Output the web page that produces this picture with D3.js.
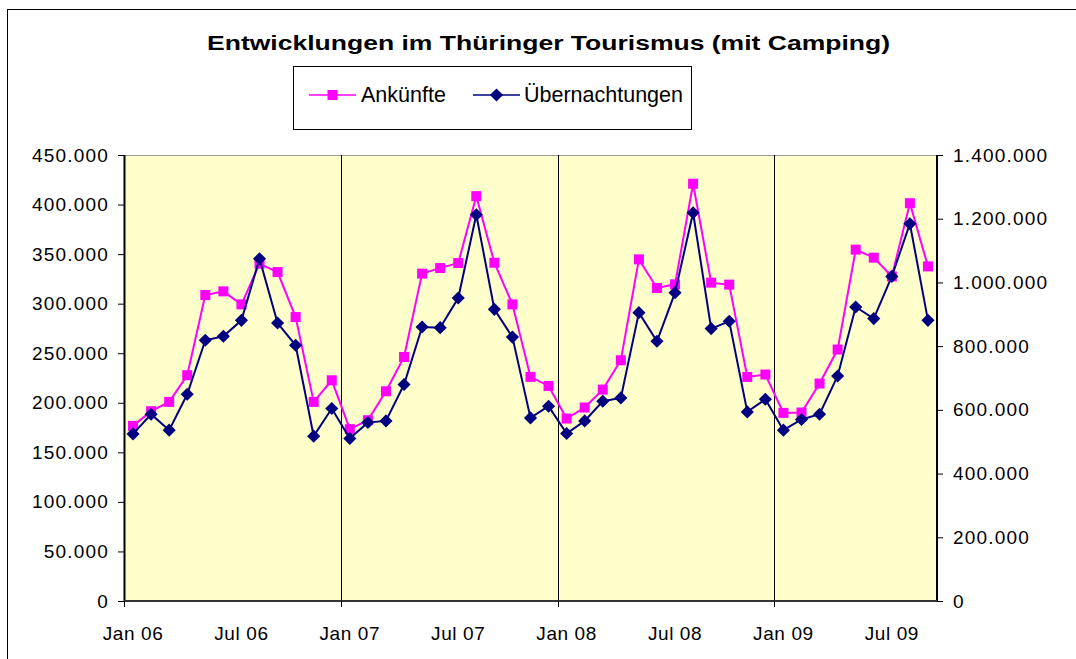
<!DOCTYPE html>
<html>
<head>
<meta charset="utf-8">
<script src="https://cdn.jsdelivr.net/npm/d3@7"></script>
<style>
  body { margin: 0; background: #fff; }
  svg text { font-family: "Liberation Sans", Arial, sans-serif; fill: #000; }
</style>
</head>
<body>
<div id="chart"></div>
<script>
const months = [
  "Jan 06","Feb 06","Mar 06","Apr 06","May 06","Jun 06","Jul 06","Aug 06","Sep 06","Oct 06","Nov 06","Dec 06",
  "Jan 07","Feb 07","Mar 07","Apr 07","May 07","Jun 07","Jul 07","Aug 07","Sep 07","Oct 07","Nov 07","Dec 07",
  "Jan 08","Feb 08","Mar 08","Apr 08","May 08","Jun 08","Jul 08","Aug 08","Sep 08","Oct 08","Nov 08","Dec 08",
  "Jan 09","Feb 09","Mar 09","Apr 09","May 09","Jun 09","Jul 09","Aug 09","Sep 09"
];

const tickLabels = ["Jan 06","Jul 06","Jan 07","Jul 07","Jan 08","Jul 08","Jan 09","Jul 09"];
const yearStarts = ["Jan 06","Jan 07","Jan 08","Jan 09"];

const ankuenfte = [
  176700, 191500, 200900, 227800, 308700, 312400, 299300, 340300, 331900, 286500, 200900, 222700,
  173400, 182400, 211600, 246200, 330300, 335900, 341000, 408500, 341300, 299300, 226100, 217000,
  184100, 195200, 213300, 242900, 344700, 315800, 319500, 421000, 321200, 319200, 226100, 228500,
  189800, 190200, 219400, 253700, 354500, 346400, 327500, 401400, 337600
];

const uebernachtungen = [
  524600, 586300, 536200, 649000, 818400, 831000, 881000, 1074500, 872600, 802700, 517400, 604200,
  510000, 560300, 565300, 679500, 860000, 858000, 951000, 1212500, 915600, 828400, 574700, 611400,
  525800, 565300, 627100, 637500, 905200, 815200, 967900, 1218800, 855000, 878000, 593600, 633400,
  536200, 569700, 586300, 706400, 922800, 886400, 1019000, 1184300, 881000
];

const leftTicks = [0, 50000, 100000, 150000, 200000, 250000, 300000, 350000, 400000, 450000];
const rightTicks = [0, 200000, 400000, 600000, 800000, 1000000, 1200000, 1400000];

const width = 1076;
const height = 659;
const plot = { left: 124, right: 937, top: 155, bottom: 601 };

const de = d3.formatLocale({ decimal: ",", thousands: ".", grouping: [3], currency: ["", " €"] });
const fmt = de.format(",d");

const svg = d3.select("#chart").append("svg")
  .attr("width", width)
  .attr("height", height);

// Rahmen
svg.append("rect")
  .attr("x", 7.5).attr("y", 9.5)
  .attr("width", width).attr("height", height)
  .attr("fill", "#fff")
  .attr("stroke", "#000");

const x = d3.scaleBand().domain(months).range([plot.left, plot.right]).padding(0);
const yL = d3.scaleLinear().domain([0, 450000]).range([plot.bottom, plot.top]);
const yR = d3.scaleLinear().domain([0, 1400000]).range([plot.bottom, plot.top]);
const cx = (m) => x(m) + x.bandwidth() / 2;

// Zeichenfläche
svg.append("rect")
  .attr("x", plot.left).attr("y", plot.top)
  .attr("width", plot.right - plot.left).attr("height", plot.bottom - plot.top)
  .attr("fill", "#FFFFCC");

svg.append("line")
  .attr("x1", plot.left).attr("x2", plot.right)
  .attr("y1", plot.top + 0.5).attr("y2", plot.top + 0.5)
  .attr("stroke", "#999");

// vertikale Linien an den Jahresanfängen
svg.selectAll(".grid")
  .data(yearStarts.slice(1))
  .enter()
  .append("line")
  .attr("class", "grid")
  .attr("x1", (d) => Math.round(x(d)) + 0.5)
  .attr("x2", (d) => Math.round(x(d)) + 0.5)
  .attr("y1", plot.top).attr("y2", plot.bottom + 6)
  .attr("stroke", "#000");

// Achsen
const axisLeft = d3.axisLeft(yL).tickValues(leftTicks).tickFormat(fmt).tickSize(6).tickPadding(9);
const axisRight = d3.axisRight(yR).tickValues(rightTicks).tickFormat(fmt).tickSize(6).tickPadding(10);

const gl = svg.append("g").attr("transform", `translate(${plot.left},0)`).call(axisLeft);
const gr = svg.append("g").attr("transform", `translate(${plot.right},0)`).call(axisRight);

[gl, gr].forEach((g) => {
  g.select(".domain").remove();
  g.selectAll(".tick line").attr("stroke", "#000");
  g.selectAll("text")
    .style("font-size", "19px")
    .style("letter-spacing", "1.2px")
    .attr("fill", "#000");
});

svg.append("line")
  .attr("x1", plot.left + 0.5).attr("x2", plot.left + 0.5)
  .attr("y1", plot.top).attr("y2", plot.bottom + 1)
  .attr("stroke", "#000").attr("stroke-width", 2);
svg.append("line")
  .attr("x1", plot.right).attr("x2", plot.right)
  .attr("y1", plot.top).attr("y2", plot.bottom + 1)
  .attr("stroke", "#000").attr("stroke-width", 2);

// x-Achse
svg.append("line")
  .attr("x1", plot.left).attr("x2", plot.right)
  .attr("y1", plot.bottom).attr("y2", plot.bottom)
  .attr("stroke", "#333").attr("stroke-width", 2);

svg.selectAll(".xtick")
  .data(yearStarts)
  .enter()
  .append("line")
  .attr("x1", (d) => Math.round(x(d)) + 0.5)
  .attr("x2", (d) => Math.round(x(d)) + 0.5)
  .attr("y1", plot.bottom).attr("y2", plot.bottom + 6)
  .attr("stroke", "#000");

svg.selectAll(".xlabel")
  .data(tickLabels)
  .enter()
  .append("text")
  .attr("x", (d) => cx(d))
  .attr("y", 640)
  .attr("text-anchor", "middle")
  .style("font-size", "19px")
  .style("letter-spacing", "0.6px")
  .text((d) => d);

// Linien
const lineA = d3.line().x((d, i) => cx(months[i])).y((d) => yL(d));
const lineU = d3.line().x((d, i) => cx(months[i])).y((d) => yR(d));

svg.append("path")
  .datum(ankuenfte)
  .attr("d", lineA)
  .attr("fill", "none")
  .attr("stroke", "#FF00FF")
  .attr("stroke-width", 2);

svg.selectAll(".sq")
  .data(ankuenfte)
  .enter()
  .append("rect")
  .attr("x", (d, i) => cx(months[i]) - 5)
  .attr("y", (d) => yL(d) - 5)
  .attr("width", 10).attr("height", 10)
  .attr("fill", "#FF00FF");

svg.append("path")
  .datum(uebernachtungen)
  .attr("d", lineU)
  .attr("fill", "none")
  .attr("stroke", "#000080")
  .attr("stroke-width", 2);

const diamond = d3.symbol().type(d3.symbolDiamond2).size(110);
svg.selectAll(".dm")
  .data(uebernachtungen)
  .enter()
  .append("path")
  .attr("d", diamond)
  .attr("transform", (d, i) => `translate(${cx(months[i])},${yR(d)})`)
  .attr("fill", "#000080");

// Titel
svg.append("text")
  .attr("x", 548.5)
  .attr("y", 50)
  .attr("text-anchor", "middle")
  .attr("textLength", 683)
  .attr("lengthAdjust", "spacingAndGlyphs")
  .style("font-size", "20px")
  .style("font-weight", "bold")
  .text("Entwicklungen im Thüringer Tourismus (mit Camping)");

// Legende
const legend = svg.append("g");
legend.append("rect")
  .attr("x", 293.5).attr("y", 66.5)
  .attr("width", 398).attr("height", 63)
  .attr("fill", "#fff").attr("stroke", "#000");

const legendItems = [
  { name: "Ankünfte", color: "#FF00FF", x0: 309, tx: 361, type: "square" },
  { name: "Übernachtungen", color: "#000080", x0: 473, tx: 524, type: "diamond" }
];

legendItems.forEach((it) => {
  legend.append("line")
    .attr("x1", it.x0).attr("x2", it.x0 + 47)
    .attr("y1", 95).attr("y2", 95)
    .attr("stroke", it.color).attr("stroke-width", 1.5);
  if (it.type === "square") {
    legend.append("rect")
      .attr("x", it.x0 + 23.5 - 5).attr("y", 90)
      .attr("width", 10).attr("height", 10)
      .attr("fill", it.color);
  } else {
    legend.append("path")
      .attr("d", diamond)
      .attr("transform", `translate(${it.x0 + 23.5},95)`)
      .attr("fill", it.color);
  }
  legend.append("text")
    .attr("x", it.tx).attr("y", 102)
    .style("font-size", "21.5px")
    .text(it.name);
});
</script>
</body>
</html>
